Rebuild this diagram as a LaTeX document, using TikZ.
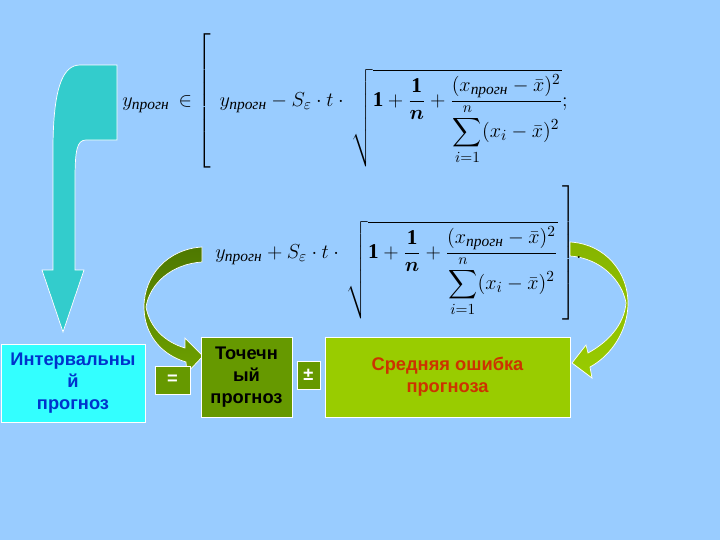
\documentclass[tikz,border=0pt]{standalone}
\usepackage{amsmath}
\usepackage{fontspec}
\setmainfont{Liberation Serif}
\setsansfont{Liberation Sans}

\definecolor{bg}{HTML}{99CCFF}
\definecolor{turq}{HTML}{33CCCC}
\definecolor{aqua}{HTML}{33FFFF}
\definecolor{olive}{HTML}{669900}
\definecolor{olivedark}{HTML}{4E7800}
\definecolor{lime}{HTML}{99CC00}
\definecolor{limedark}{HTML}{86B400}
\definecolor{navy}{HTML}{0033CC}
\definecolor{rust}{HTML}{CC3300}

\newcommand{\prgn}{\text{\itshape\fontsize{11}{11}\selectfont прогн}}
\newcommand{\rootpart}{\sqrt{\mathbf{1}+\dfrac{\mathbf{1}}{\boldsymbol{n}}+\dfrac{(x_{\prgn}-\bar{x})^{2}}{\displaystyle\sum_{i=1}^{n}(x_{i}-\bar{x})^{2}}}}

\begin{document}
\begin{tikzpicture}[x=0.025cm,y=-0.025cm]
\fill[bg] (0,0) rectangle (720,540);
\useasboundingbox (0,0) rectangle (720,540);
\tikzstyle{every node}=[];
\tikzstyle{box}=[draw=white,line width=0.6pt,align=center,inner sep=0pt,font=\sffamily\fontsize{13}{15.6}\selectfont\bfseries];
\tikzstyle{formula}=[anchor=base west,inner sep=0pt,font=\fontsize{15}{18}\selectfont];
% turquoise arrow
\filldraw[fill=turq,draw=white,line width=0.5pt] (117,65) -- (80,65) .. controls (62,65) and (53,90) .. (53,150) -- (53,270) -- (42,270) -- (63,332) -- (84,270) -- (75,270) -- (75,180) .. controls (75,150) and (77,140) .. (86,140) -- (117,140) -- cycle;
% green arrows
\shadedraw[top color=olivedark,bottom color=olive!85!lime,draw=white,line width=0.5pt] (202,247) .. controls (168,249) and (144,275) .. (144,307) .. controls (144,335) and (162,355) .. (186,362) -- (187,373) -- (203,356) -- (185,338) -- (185,348) .. controls (165,342) and (150,328) .. (146,307) .. controls (150,283) and (172,264) .. (202,262) -- cycle;
\shadedraw[top color=limedark,bottom color=lime,draw=white,line width=0.5pt] (570,242) .. controls (606,244) and (628,273) .. (628,303) .. controls (628,330) and (612,355) .. (590,367) -- (592,378) -- (572,363) -- (586,345) -- (588,353) .. controls (608,342) and (624,325) .. (626,303) .. controls (622,280) and (600,258) .. (570,256) -- cycle;
% formula
\path (122,106) node[formula] (v0) {$y_{\prgn}\,\in\left[\rule[-45pt]{0pt}{53pt}\right.\,y_{\prgn}-S_{\varepsilon}\cdot t\cdot\,\rootpart;$};
\path (215,258) node[formula] (v1) {$y_{\prgn}+S_{\varepsilon}\cdot t\cdot\,\rootpart\left.\rule[-45pt]{0pt}{53pt}\right]\!.$};
% boxes
\path (73,383) node[box,fill=aqua,text=navy,minimum width=3.6cm,minimum height=1.95cm] (v2) {Интервальны\\й\\прогноз};
\path (172.5,380) node[box,fill=olive,text=white,minimum width=0.875cm,minimum height=0.7cm] (v3) {=};
\path (246.5,377) node[box,fill=olive,text=black,minimum width=2.275cm,minimum height=2cm] (v4) {Точечн\\ый\\прогноз};
\path (308.5,375) node[box,fill=olive,text=white,minimum width=0.575cm,minimum height=0.7cm] (v5) {±};
\path (447.5,377) node[box,fill=lime,text=rust,minimum width=6.125cm,minimum height=2cm] (v6) {Средняя ошибка\\прогноза};
\end{tikzpicture}
\end{document}
